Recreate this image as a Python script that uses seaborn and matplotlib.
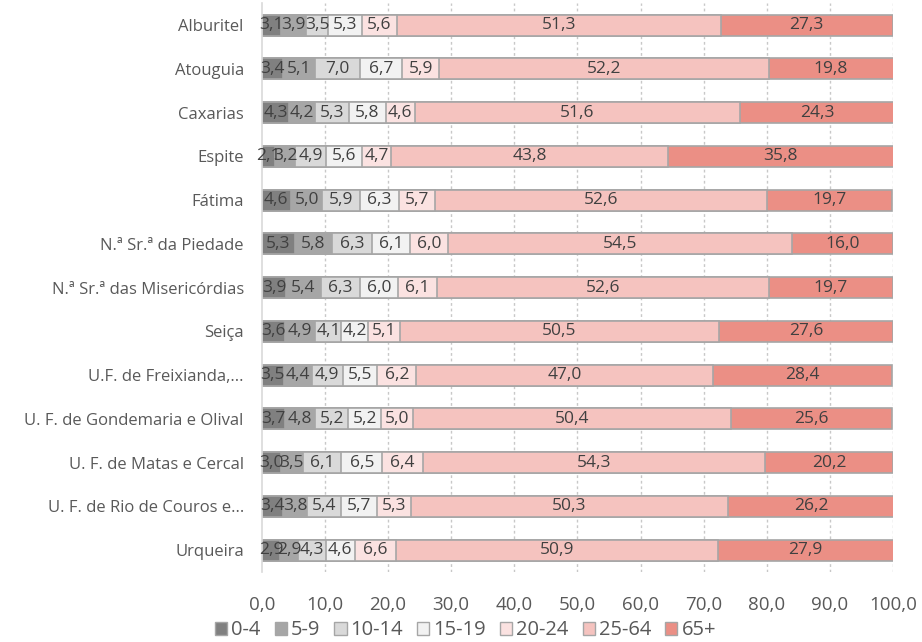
import pandas as pd
import numpy as np
import seaborn as sns
import matplotlib.pyplot as plt
from matplotlib.patches import Patch

# freguesias (top to bottom)
places = ['Alburitel', 'Atouguia', 'Caxarias', 'Espite', 'Fátima',
          'N.ª Sr.ª da Piedade', 'N.ª Sr.ª das Misericórdias', 'Seiça',
          'U.F. de Freixianda,...', 'U. F. de Gondemaria e Olival',
          'U. F. de Matas e Cercal', 'U. F. de Rio de Couros e...', 'Urqueira']
groups = ['0-4', '5-9', '10-14', '15-19', '20-24', '25-64', '65+']

age_0_4 = [3.1, 3.4, 4.3, 2.1, 4.6, 5.3, 3.9, 3.6, 3.5, 3.7, 3.0, 3.4, 2.9]
age_5_9 = [3.9, 5.1, 4.2, 3.2, 5.0, 5.8, 5.4, 4.9, 4.4, 4.8, 3.5, 3.8, 2.9]
age_10_14 = [3.5, 7.0, 5.3, 4.9, 5.9, 6.3, 6.3, 4.1, 4.9, 5.2, 6.1, 5.4, 4.3]
age_15_19 = [5.3, 6.7, 5.8, 5.6, 6.3, 6.1, 6.0, 4.2, 5.5, 5.2, 6.5, 5.7, 4.6]
age_20_24 = [5.6, 5.9, 4.6, 4.7, 5.7, 6.0, 6.1, 5.1, 6.2, 5.0, 6.4, 5.3, 6.6]
age_25_64 = [51.3, 52.2, 51.6, 43.8, 52.6, 54.5, 52.6, 50.5, 47.0, 50.4, 54.3, 50.3, 50.9]
age_65 = [27.3, 19.8, 24.3, 35.8, 19.7, 16.0, 19.7, 27.6, 28.4, 25.6, 20.2, 26.2, 27.9]

colors = ['#808080', '#a6a6a6', '#d9d9d9', '#f2f2f2', '#fbe2e1', '#f5c3bf', '#eb8f85']
edge = '#a6a6a6'

df = pd.DataFrame({'place': places})
series = [age_0_4, age_5_9, age_10_14, age_15_19, age_20_24, age_25_64, age_65]
for g, s in zip(groups, series):
    df[g] = s
cum = df[groups].cumsum(axis=1)

sns.set_style('white')
plt.rcParams['font.family'] = ['Open Sans', 'DejaVu Sans']

fig = plt.figure(figsize=(9.22, 6.42), dpi=100)
ax = fig.add_axes([0.284, 0.109, 0.6845, 0.886])

# gridlines behind bars
for xv in range(10, 101, 10):
    ax.axvline(xv, color='#c8c8c8', lw=1, ls=(0, (2, 2)), zorder=0)

# stacked bars: draw cumulative totals from the last group back to the first
for i in range(len(groups) - 1, -1, -1):
    sns.barplot(x=cum[groups[i]], y=df['place'], color=colors[i], orient='h',
                width=0.48, edgecolor=edge, linewidth=1.2, ax=ax, zorder=2,
                saturation=1)

# value labels in the middle of each segment
for i, g in enumerate(groups):
    for j in range(len(places)):
        v = df[g][j]
        xc = cum[g][j] - v / 2
        ax.text(xc, j, f'{v:.1f}'.replace('.', ','), ha='center', va='center',
                fontsize=12.5, color='#404040', zorder=3)

ax.set_xlim(0, 100)
ax.set_ylim(12.5, -0.5)
ax.set_xticks(np.arange(0, 101, 10))
ax.set_xticklabels([f'{t:.1f}'.replace('.', ',') for t in np.arange(0, 101, 10)])
ax.tick_params(axis='x', length=0, pad=17, labelsize=13.5, labelcolor='#595959')
ax.tick_params(axis='y', length=0, pad=13, labelsize=12, labelcolor='#595959')
ax.set_xlabel('')
ax.set_ylabel('')
for s in ['top', 'right', 'bottom']:
    ax.spines[s].set_visible(False)
ax.spines['left'].set_color('#d9d9d9')
ax.spines['left'].set_linewidth(1.2)

handles = [Patch(facecolor=c, edgecolor=edge, label=g) for g, c in zip(groups, colors)]
fig.legend(handles=handles, loc='center', bbox_to_anchor=(0.505, 0.018), ncol=7,
           frameon=False, fontsize=14.5, handlelength=0.6, handleheight=0.6,
           handletextpad=0.2, columnspacing=0.7, labelcolor='#595959',
           borderaxespad=0, borderpad=0)

plt.savefig('out.png', dpi=100)
